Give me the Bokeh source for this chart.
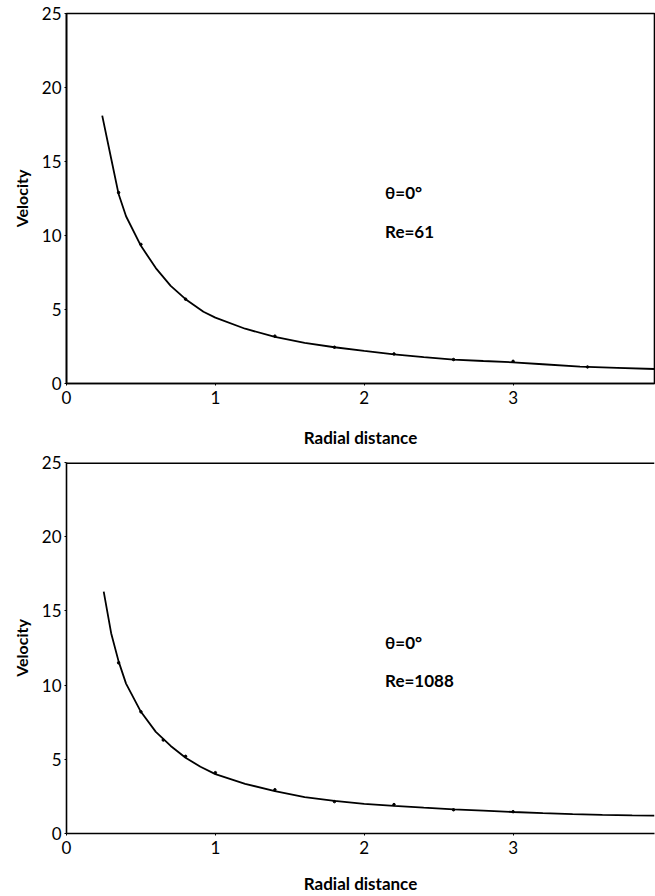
from bokeh.plotting import figure
from bokeh.layouts import column
from bokeh.models import Range1d, Span, Label, FixedTicker
from bokeh.embed import file_html
from bokeh.resources import INLINE

# ---- data ----
x_ticks = [0, 1, 2, 3, 4]
y_ticks = [0, 5, 10, 15, 20, 25]

# Top panel: theta = 0 deg, Re = 61
top_curve_x = [0.24, 0.30, 0.35, 0.40, 0.50, 0.60, 0.70, 0.80, 0.92, 1.00, 1.20, 1.40,
               1.60, 1.80, 2.00, 2.20, 2.40, 2.60, 2.80, 3.00, 3.20, 3.45, 3.70, 3.95]
top_curve_v = [18.1, 15.2, 12.8, 11.3, 9.3, 7.8, 6.6, 5.7, 4.85, 4.45, 3.7, 3.15,
               2.75, 2.45, 2.2, 1.97, 1.78, 1.62, 1.52, 1.43, 1.3, 1.14, 1.06, 0.98]
top_pts_x = [0.35, 0.50, 0.80, 1.40, 1.80, 2.20, 2.60, 3.00, 3.50]
top_pts_v = [12.9, 9.4, 5.7, 3.2, 2.45, 2.0, 1.62, 1.5, 1.12]

# Bottom panel: theta = 0 deg, Re = 1088
bot_curve_x = [0.25, 0.30, 0.35, 0.40, 0.50, 0.60, 0.70, 0.80, 0.90, 1.00, 1.20, 1.40,
               1.60, 1.80, 2.00, 2.20, 2.40, 2.60, 2.80, 3.00, 3.20, 3.40, 3.60, 3.80, 3.95]
bot_curve_v = [16.3, 13.5, 11.6, 10.1, 8.2, 6.85, 5.9, 5.1, 4.5, 4.0, 3.35, 2.85,
               2.45, 2.2, 2.0, 1.86, 1.74, 1.63, 1.54, 1.45, 1.37, 1.3, 1.25, 1.22, 1.2]
bot_pts_x = [0.35, 0.50, 0.65, 0.80, 1.00, 1.40, 1.80, 2.20, 2.60, 3.00]
bot_pts_v = [11.5, 8.2, 6.3, 5.2, 4.1, 2.95, 2.15, 1.95, 1.6, 1.47]

annot_theta = "\u03b8=0\u00b0"
annot_re = ["Re=61", "Re=1088"]
x_title = "Radial distance"
y_title = "Velocity"

FONT = "Lato"


def make_panel(cx, cv, px, pv, re_text, height, b_left, b_top, b_bottom,
               title_standoff, theta_y, re_y, boxed):
    p = figure(width=655, height=height, output_backend="svg", toolbar_location=None,
               x_range=Range1d(0, 3.95), y_range=Range1d(0, 25),
               min_border_left=b_left, min_border_right=1 if boxed else 0,
               min_border_top=b_top, min_border_bottom=b_bottom)
    p.grid.visible = False
    p.background_fill_color = "white"
    p.border_fill_color = "white"
    if boxed:
        p.outline_line_color = "black"
        p.outline_line_width = 1.6
    else:
        p.outline_line_color = None
        p.add_layout(Span(location=25, dimension="width", line_color="black", line_width=3))
    for ax in (p.xaxis[0], p.yaxis[0]):
        ax.axis_line_color = "black"
        ax.axis_line_width = 1.6
        ax.major_tick_in = 0
        ax.major_tick_out = 2
        ax.minor_tick_line_color = None
        ax.major_label_text_font = FONT
        ax.major_label_text_font_size = "17px"
        ax.major_label_text_color = "black"
        ax.axis_label_text_font = FONT
        ax.axis_label_text_font_style = "bold"
        ax.axis_label_text_color = "black"
    p.xaxis.axis_label_text_font_size = "17px"
    p.yaxis.axis_label_text_font_size = "16px"
    p.xaxis.ticker = FixedTicker(ticks=x_ticks)
    p.yaxis.ticker = FixedTicker(ticks=y_ticks)
    p.xaxis.major_label_standoff = 5
    p.yaxis.major_label_standoff = 3
    p.xaxis.axis_label = x_title
    p.yaxis.axis_label = y_title
    p.xaxis.axis_label_standoff = title_standoff
    p.yaxis.axis_label_standoff = 8

    p.line(cx, cv, line_color="black", line_width=1.8)
    p.scatter(px, pv, size=2.5, color="black")

    p.add_layout(Label(x=2.14, y=theta_y, text=annot_theta, text_font=FONT,
                       text_font_size="17px", text_font_style="bold",
                       text_baseline="middle", text_color="black"))
    p.add_layout(Label(x=2.14, y=re_y, text=re_text, text_font=FONT,
                       text_font_size="17px", text_font_style="bold",
                       text_baseline="middle", text_color="black"))
    return p


top = make_panel(top_curve_x, top_curve_v, top_pts_x, top_pts_v, annot_re[0],
                 height=450, b_left=62, b_top=13, b_bottom=67, title_standoff=20,
                 theta_y=12.9, re_y=10.3, boxed=True)
bot = make_panel(bot_curve_x, bot_curve_v, bot_pts_x, bot_pts_v, annot_re[1],
                 height=446, b_left=66, b_top=12, b_bottom=61, title_standoff=16,
                 theta_y=12.9, re_y=10.3, boxed=False)

layout = column(top, bot, spacing=0)
open("out.html", "w").write(file_html(layout, INLINE))
